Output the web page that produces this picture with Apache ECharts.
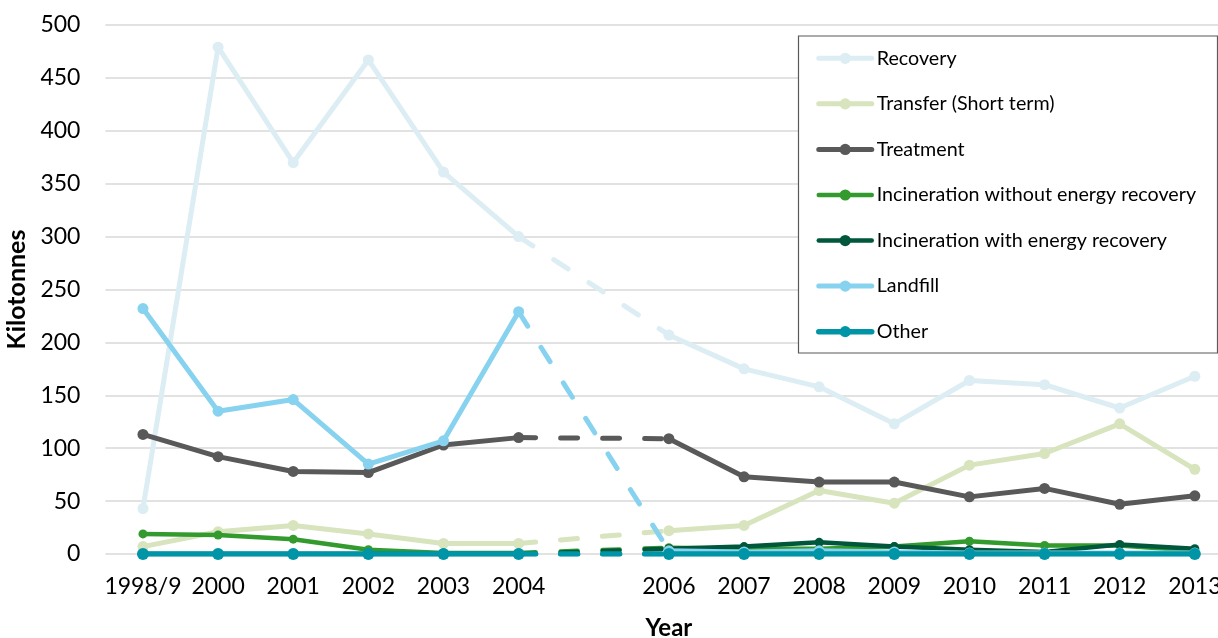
<!DOCTYPE html>
<html>
<head>
<meta charset="utf-8">
<script src="https://cdn.jsdelivr.net/npm/echarts@6/dist/echarts.min.js"></script>
<style>
  html, body { margin: 0; padding: 0; background: #ffffff; }
  #chart { width: 1218px; height: 638px; }
</style>
</head>
<body>
<div id="chart"></div>
<script>
// ---- Data (kilotonnes); 2005 has no data ----
const years = ['1998/9', '2000', '2001', '2002', '2003', '2004', '2005', '2006', '2007', '2008', '2009', '2010', '2011', '2012', '2013'];
const unlabelledYears = ['2005'];
const seriesNames = ['Recovery', 'Transfer (Short term)', 'Treatment', 'Incineration without energy recovery', 'Incineration with energy recovery', 'Landfill', 'Other'];
const recovery      = [43, 479, 370, 467, 361, 300, null, 207, 175, 158, 123, 164, 160, 138, 168];
const transfer      = [7, 21, 27, 19, 10, 10, null, 22, 27, 60, 48, 84, 95, 123, 80];
const treatment     = [113, 92, 78, 77, 103, 110, null, 109, 73, 68, 68, 54, 62, 47, 55];
const incinNoEnergy = [19, 18, 14, 4, 1, 1, null, 6, 5, 5, 7, 12, 8, 8, 3];
const incinEnergy   = [0, 0, 0, 0, 0, 0, null, 5, 7, 11, 7, 4, 2, 9, 5];
const landfill      = [232, 135, 146, 85, 107, 229, null, 3, 2, 3, 2, 1, 1, 1, 1];
const other         = [0, 0, 0, 0, 0, 0, null, 0, 0, 0, 0, 0, 0, 0, 0];
const yMin = 0, yMax = 500, yStep = 50;

// ---- Styles ----
const colors = ['#dcedf3', '#d7e4bd', '#595959', '#339a2e', '#00573c', '#87d2ef', '#0095a6'];
const widths = [5, 5, 5, 4.5, 4.5, 5, 5.5];
const symSizes = [11, 11, 11, 9, 9, 11, 12];
const allValues = [recovery, transfer, treatment, incinNoEnergy, incinEnergy, landfill, other];
const FONT = 'Lato, "Open Sans", sans-serif';

// values adjacent to a missing year, joined by a dashed segment
function bridge(values) {
  return values.map((v, i) => {
    if (v === null) return null;
    const prevGap = i > 0 && values[i - 1] === null;
    const nextGap = i < values.length - 1 && values[i + 1] === null;
    return (prevGap || nextGap) ? v : null;
  });
}

const series = [];
allValues.forEach((vals, k) => {
  series.push({
    name: seriesNames[k],
    type: 'line',
    data: vals,
    connectNulls: false,
    symbol: 'circle',
    symbolSize: symSizes[k],
    showSymbol: true,
    lineStyle: { color: colors[k], width: widths[k], cap: 'round', join: 'round' },
    itemStyle: { color: colors[k] },
    z: 2 + k * 0.01
  });
  series.push({
    name: seriesNames[k] + ' (gap)',
    type: 'line',
    data: bridge(vals),
    connectNulls: true,
    showSymbol: false,
    symbol: 'none',
    lineStyle: { color: colors[k], width: widths[k], type: [17, 25], cap: 'round' },
    z: 2 + k * 0.01,
    silent: true
  });
});

const legendData = seriesNames.map((n, k) => ({
  name: n,
  lineStyle: { width: widths[k], cap: 'round' }
}));

const chart = echarts.init(document.getElementById('chart'), null, { renderer: 'canvas' });
chart.setOption({
  animation: false,
  backgroundColor: '#ffffff',
  grid: { left: 105.4, width: 1127, top: 25, bottom: 84, containLabel: false, outerBoundsMode: 'none' },
  xAxis: {
    type: 'category',
    data: years,
    boundaryGap: true,
    name: 'Year',
    nameLocation: 'middle',
    nameGap: 62,
    nameTextStyle: { fontFamily: FONT, fontSize: 24, fontWeight: 'bold', color: '#000' },
    axisLine: { show: false },
    axisTick: { show: false },
    axisLabel: {
      interval: 0,
      margin: 21,
      fontFamily: FONT, fontSize: 23, color: '#000',
      formatter: v => unlabelledYears.includes(v) ? '' : v
    },
    splitLine: { show: false }
  },
  yAxis: {
    type: 'value',
    min: yMin, max: yMax, interval: yStep,
    name: 'Kilotonnes',
    nameLocation: 'middle',
    nameRotate: 90,
    nameGap: 72,
    nameTextStyle: { fontFamily: FONT, fontSize: 25, fontWeight: 'bold', color: '#000' },
    axisLine: { show: false },
    axisTick: { show: false },
    axisLabel: { margin: 25, fontFamily: FONT, fontSize: 23, color: '#000' },
    splitLine: { show: true, lineStyle: { color: '#d9d9d9', width: 1.5 } }
  },
  graphic: [{
    type: 'rect',
    z: 3,
    shape: { x: 798.5, y: 36, width: 419, height: 317 },
    style: { fill: '#ffffff', stroke: '#595959', lineWidth: 1.2 }
  }],
  legend: {
    data: legendData,
    orient: 'vertical',
    left: 816,
    top: 47.3,
    padding: 0,
    itemWidth: 53,
    itemHeight: 14,
    itemGap: 23.56,
    z: 5,
    textStyle: { fontFamily: FONT, fontSize: 19.7, lineHeight: 22, color: '#000' }
  },
  series: series
});
</script>
</body>
</html>
